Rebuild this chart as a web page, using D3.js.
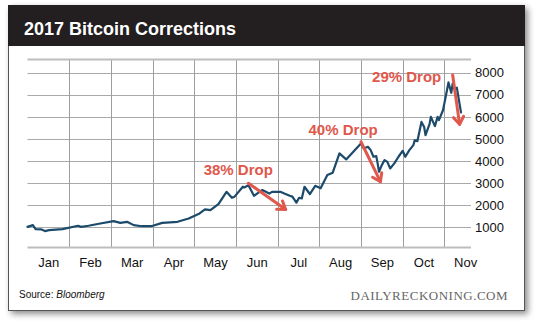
<!DOCTYPE html>
<html lang="en">
<head>
<meta charset="UTF-8">
<script src="https://cdnjs.cloudflare.com/ajax/libs/d3/7.8.5/d3.min.js"></script>
<style>
body{
  margin: 0;
  background-color: #fff;
}
text{
  font-family: "Liberation Sans", Arial, Helvetica, sans-serif;
}
</style>
</head>
<body>
<div id="chart"></div>
<script type="text/javascript">
/* global d3 */

// closing prices
const dates = ['2017-01-01','2017-01-05','2017-01-07','2017-01-11','2017-01-14','2017-01-17','2017-01-27',
  '2017-02-07','2017-02-09','2017-02-14','2017-02-21',
  '2017-03-03','2017-03-08','2017-03-13','2017-03-18','2017-03-24','2017-03-31',
  '2017-04-08','2017-04-19','2017-04-27',
  '2017-05-05','2017-05-09','2017-05-13','2017-05-19','2017-05-25','2017-05-29','2017-05-31',
  '2017-06-06','2017-06-07','2017-06-10','2017-06-14','2017-06-18','2017-06-20','2017-06-25','2017-06-27',
  '2017-07-03','2017-07-06','2017-07-10','2017-07-12','2017-07-15','2017-07-17','2017-07-19','2017-07-21','2017-07-25','2017-07-29',
  '2017-08-02','2017-08-07','2017-08-11','2017-08-16','2017-08-21',
  '2017-09-01','2017-09-03','2017-09-06','2017-09-08','2017-09-10','2017-09-12','2017-09-13','2017-09-14','2017-09-16',
  '2017-09-18','2017-09-20','2017-09-22','2017-09-25','2017-09-28',
  '2017-10-01','2017-10-03','2017-10-06','2017-10-09','2017-10-10','2017-10-12','2017-10-15','2017-10-17','2017-10-18',
  '2017-10-21','2017-10-22','2017-10-25','2017-10-27','2017-10-28','2017-10-31',
  '2017-11-01','2017-11-04','2017-11-06','2017-11-07','2017-11-08','2017-11-10','2017-11-13'];
const prices = [1010,1090,910,900,820,860,910,
  1060,1010,1060,1150,
  1270,1190,1240,1090,1040,1040,
  1190,1240,1390,
  1620,1800,1770,2040,2600,2330,2380,
  2830,2800,2900,2420,2600,2680,2520,2600,
  2600,2520,2420,2380,2110,2330,2300,2830,2500,2870,
  2760,3360,3470,4340,4070,
  4790,4560,4640,4490,4190,4220,3890,3510,3810,
  4040,3960,3660,3890,4190,
  4460,4190,4490,4720,4940,4900,5770,5540,5170,
  5670,6000,5580,6000,5850,6300,
  6600,7560,7090,7510,7290,7320,6200];

const months = ['Jan','Feb','Mar','Apr','May','Jun','Jul','Aug','Sep','Oct','Nov'];
const yTicks = [1000,2000,3000,4000,5000,6000,7000,8000];

// drop annotations
const dropLabels = ['38% Drop','40% Drop','29% Drop'];
const dropFromDates = ['2017-06-10','2017-09-01','2017-11-07'];
const dropFromValues = [2990,4870,7900];
const dropToDates = ['2017-07-07','2017-09-15','2017-11-12'];
const dropToValues = [1800,3060,5660];
const labelDates = ['2017-05-08','2017-07-24','2017-09-09'];
const labelValues = [3340,5180,7570];

const W = 540, H = 321;
const parse = d3.timeParse('%Y-%m-%d');
// months are drawn with equal widths, so position = month index + fraction of month
function monthPos(s){
  const dt = parse(s);
  const m = dt.getMonth();
  const dim = new Date(2017, m+1, 0).getDate();
  return m + (dt.getDate()-1)/dim;
}

const xScale = d3.scaleLinear().domain([0, 10.64]).range([27.5, 471]);
const yScale = d3.scaleLinear().domain([75, 8600]).range([247.5, 59.5]);
const plotLeft = xScale.range()[0], plotRight = xScale.range()[1];
const plotTop = yScale.range()[1], plotBottom = yScale.range()[0];

const svg = d3.select('#chart').append('svg').attr('width', W).attr('height', H);

const defs = svg.append('defs');
defs.append('filter').attr('id','shadow').attr('x','-5%').attr('y','-5%').attr('width','115%').attr('height','120%')
  .append('feDropShadow').attr('dx',3).attr('dy',3).attr('stdDeviation',3).attr('flood-color','#000').attr('flood-opacity',0.45);

// card
svg.append('rect').attr('x',8.5).attr('y',5.5).attr('width',516).attr('height',305)
  .attr('fill','#fff').attr('stroke','#555').attr('stroke-width',1).attr('filter','url(#shadow)');
svg.append('rect').attr('x',8).attr('y',5).attr('width',517).attr('height',41).attr('fill','#231f20');
svg.append('text').attr('x',24).attr('y',34.5).attr('fill','#fff')
  .style('font-size','18px').style('font-weight','bold').text('2017 Bitcoin Corrections');

// grid
const grid = svg.append('g').attr('class','grid');
grid.selectAll('line.hgrid').data(yTicks).join('line').attr('class','hgrid')
  .attr('x1', plotLeft).attr('x2', plotRight)
  .attr('y1', d => Math.round(yScale(d)) + 0.5).attr('y2', d => Math.round(yScale(d)) + 0.5)
  .style('stroke','#a9a9a9').style('stroke-width','1px');
grid.selectAll('line.vgrid').data(d3.range(1, months.length)).join('line').attr('class','vgrid')
  .attr('x1', d => Math.round(xScale(d)) + 0.5).attr('x2', d => Math.round(xScale(d)) + 0.5)
  .attr('y1', plotTop).attr('y2', plotBottom)
  .style('stroke','#9e9e9e').style('stroke-width','1px');
grid.selectAll('line.frame').data([plotTop, plotBottom]).join('line').attr('class','frame')
  .attr('x1', plotLeft).attr('x2', plotRight)
  .attr('y1', d => d).attr('y2', d => d)
  .style('stroke','#bdbdbd').style('stroke-width','2px');

// y axis labels on the right
const yAxis = d3.axisRight(yScale).tickValues(yTicks).tickSize(0).tickPadding(4).tickFormat(d3.format('d'));
const gy = svg.append('g').attr('transform','translate(' + plotRight + ',0)').call(yAxis);
gy.select('.domain').remove();
gy.selectAll('text').style('font-size','13px').attr('fill','#111').style('font-family','"Liberation Sans", Arial, sans-serif');

// month labels
const xAxis = d3.axisBottom(xScale).tickValues(d3.range(months.length).map(i => i + 0.5))
  .tickSize(0).tickPadding(10).tickFormat((d,i) => months[i]);
const gx = svg.append('g').attr('transform','translate(0,' + plotBottom + ')').call(xAxis);
gx.select('.domain').remove();
gx.selectAll('text').style('font-size','13px').attr('fill','#111').style('font-family','"Liberation Sans", Arial, sans-serif');

// price line
const data = dates.map((d,i) => ({x: monthPos(d), y: prices[i]}));
const line = d3.line().x(d => xScale(d.x)).y(d => yScale(d.y));
svg.append('path').datum(data).attr('d', line)
  .attr('fill','none').attr('stroke','#1b4a6b').attr('stroke-width',2.2)
  .attr('stroke-linejoin','round').attr('stroke-linecap','round');

// drop arrows
const red = '#e0574c';
const ann = svg.append('g');
dropLabels.forEach((lab, i) => {
  const x1 = xScale(monthPos(dropFromDates[i])), y1 = yScale(dropFromValues[i]);
  const x2 = xScale(monthPos(dropToDates[i])), y2 = yScale(dropToValues[i]);
  const ang = Math.atan2(y2 - y1, x2 - x1);
  const len = 9, spread = 0.6;
  ann.append('line').attr('x1',x1).attr('y1',y1).attr('x2',x2).attr('y2',y2)
    .attr('stroke',red).attr('stroke-width',3).attr('stroke-linecap','round');
  const p = [
    [x2 - len*Math.cos(ang - spread), y2 - len*Math.sin(ang - spread)],
    [x2, y2],
    [x2 - len*Math.cos(ang + spread), y2 - len*Math.sin(ang + spread)]
  ];
  ann.append('path').attr('d', d3.line()(p)).attr('fill','none')
    .attr('stroke',red).attr('stroke-width',3).attr('stroke-linecap','round').attr('stroke-linejoin','round');
  ann.append('text').attr('x', xScale(monthPos(labelDates[i]))).attr('y', yScale(labelValues[i]))
    .attr('fill',red).style('font-size','15px').style('font-weight','bold').text(lab);
});

// footer
const src = svg.append('text').attr('x',19).attr('y',297.5).attr('fill','#111').style('font-size','10px');
src.append('tspan').text('Source: ');
src.append('tspan').style('font-style','italic').text('Bloomberg');
svg.append('text').attr('x',507.5).attr('y',300).attr('text-anchor','end').attr('fill','#666')
  .style('font-family','"Liberation Serif", "Times New Roman", serif').style('font-size','13px')
  .attr('textLength',157).text('DAILYRECKONING.COM');
</script>
</body>
</html>
